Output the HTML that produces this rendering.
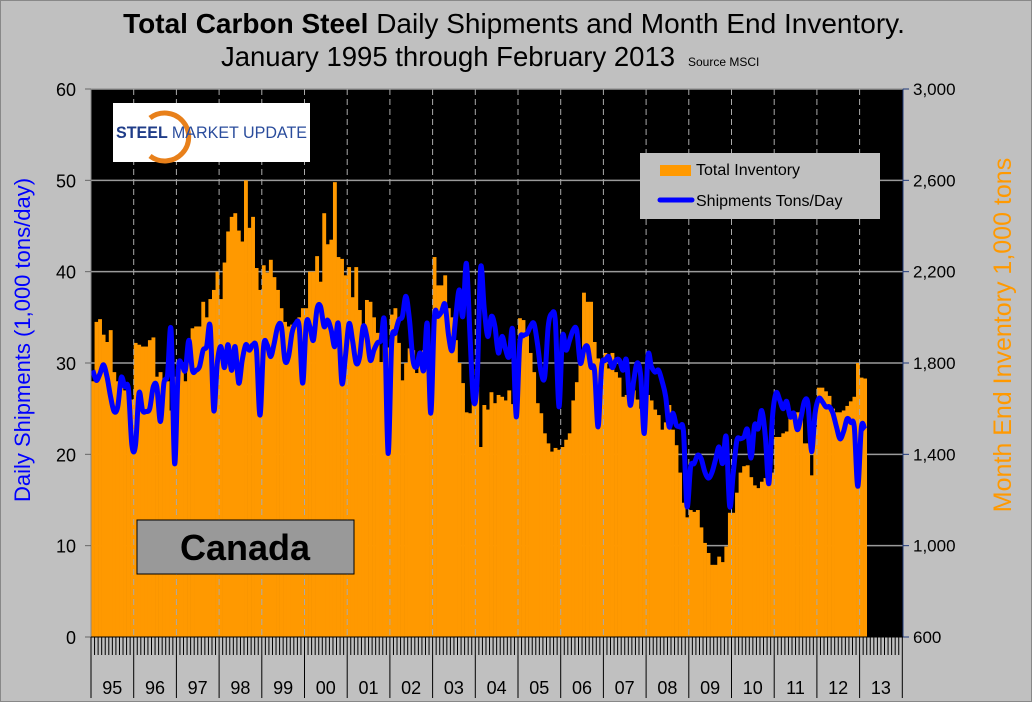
<!DOCTYPE html>
<html><head><meta charset="utf-8"><style>
body{margin:0;background:#c0c0c0;}
svg{display:block;font-family:"Liberation Sans",sans-serif;}
</style></head><body>
<svg id="chart" width="1032" height="702" viewBox="0 0 1032 702">
<rect x="0" y="0" width="1032" height="702" fill="#c0c0c0"/>
<rect x="0.5" y="0.5" width="1031" height="701" fill="none" stroke="#888"/>
<text x="514" y="33" text-anchor="middle" font-size="28" fill="#000"><tspan font-weight="bold">Total Carbon Steel</tspan> Daily Shipments and Month End Inventory.</text>
<text x="448" y="66" text-anchor="middle" font-size="27.5" fill="#000">January 1995 through February 2013</text>
<text x="688" y="66" font-size="12" fill="#000">Source MSCI</text>
<rect x="91" y="89" width="812" height="548" fill="#000"/>
<g id="grid"></g>
<g id="bars"></g>
<g id="vlines"></g>
<g id="line"></g>
<g id="axes"></g>
<text transform="translate(30,340) rotate(-90)" text-anchor="middle" font-size="22" fill="#0000ff">Daily Shipments (1,000 tons/day)</text>
<text transform="translate(1011,335) rotate(-90)" text-anchor="middle" font-size="25" fill="#ff9900">Month End Inventory 1,000 tons</text>
<g>
<rect x="113" y="103" width="197" height="59" fill="#fff"/>
<path d="M150,118 A24,24 0 1 1 150,156" fill="none" stroke="#e8801a" stroke-width="5"/>
<text x="116" y="138" font-size="17" font-weight="bold" fill="#1f3c88" textLength="191" lengthAdjust="spacingAndGlyphs">STEEL <tspan font-weight="normal" fill="#2a4c9c">MARKET UPDATE</tspan></text>
</g>
<g>
<rect x="640" y="153" width="240" height="66" fill="#c0c0c0"/>
<rect x="660" y="165" width="31" height="11" fill="#ff9900"/>
<text x="696" y="175" font-size="16">Total Inventory</text>
<line x1="660" y1="200" x2="692" y2="200" stroke="#0000ff" stroke-width="5" stroke-linecap="round"/>
<text x="696" y="206" font-size="16">Shipments Tons/Day</text>
</g>
<g>
<rect x="137" y="520" width="217" height="54" fill="#999" stroke="#000" stroke-width="1"/>
<text x="245" y="560" text-anchor="middle" font-size="36" font-weight="bold" fill="#000">Canada</text>
</g>
</svg>
<script>
// inventory in 1,000 tons, monthly Jan 1995 - Feb 2013 (left-scale units, converted below)
const inv95_98 = [28,34.5,34.8,33.1,32.3,33.6,29,28,28,27,26,26, 32.2,32,31.8,31.8,32.5,32.8,28.5,29,27.5,28,24.8,28.5, 30,30,28,32.2,33.8,34,34,36.7,35,37,38,40, 37,41,44.4,46,46.4,44.5,43.3,50,44.8,46,40.4,38];
const inv99_02 = [40.7,39.9,41.3,39.4,38,36,34.5,34,34.2,34.5,35,36, 36,40,40,41.7,38.9,46.4,43,43.5,49.8,41.6,41.4,39.6, 40.5,37.2,40.5,35.8,34,36.9,36.7,35,33.3,30.1,32,31.7, 35.3,36,32.2,28.1,30,31.6,31.4,28.9,30.1,31.4,31.4,27.6];
const inv03_06 = [41.6,38.5,38.5,39.6,36,35,32.5,30,27.8,24.6,24.5,27.4, 27.4,20.8,25.4,24.9,26.8,25.6,26.5,26.3,25.9,27,25.5,26.5, 34.9,34.7,33,31.1,29,25.6,24.5,22.3,21.2,20.3,20.7,20.5, 20.8,21.6,22.3,25.9,27.9,31,37.7,36.7,36.7,32.3,30.5,30];
const inv07_10 = [31.1,29.4,31.1,29,28.4,26.3,26.5,25.2,27,26,25,25.5, 26.5,25.9,24.9,24.3,22.7,23.5,25.4,22.7,21,18,14.7,13.1, 13.9,13.7,13.9,12,10.3,9.2,7.9,7.9,8.8,8.2,9.9,13.6, 13.6,15.8,18,18.7,18.8,17.5,16.6,16.3,17,17.4,16.6,18];
const inv11_13 = [21.9,21.9,22.3,22.5,24.6,24.6,24.6,24.6,21.2,21.2,17.7,23, 27.3,27.3,26.9,26.4,25,24.6,24.6,24.8,25.3,25.8,26.3,30, 28.4,28.3];
// shipments 1,000 tons/day
const ship95_98 = [29.2,28.1,28.8,29.8,28.5,26.3,24.7,25.2,28.4,27.4,27.2,21, 21,26.7,24.8,24.7,25,27.4,27.4,23.6,27.8,28.7,33.6,19, 29.2,29.9,29.2,32.5,29.2,29.2,29.6,31.4,31.8,34,24.8,30, 31.8,29.5,32,29.2,31.8,27.8,30.3,32,31.4,32,31.4,24.3];
const ship99_02 = [31.8,32,30.7,32.2,34,34,30.3,30.7,33.3,34.3,34,27.8, 34.3,34,32.5,35.9,36.2,34,34.7,33.6,31.8,34.3,27.8,30.7, 34.3,32.5,30,30.7,34,32.9,30.3,31.4,32.2,32.5,34.3,20.1, 32.2,33.3,34.7,35.1,37.3,34.7,30.3,29.6,31.1,29.2,34.3,24.5];
const ship03_06 = [35,35.1,35.6,36.4,33,31.4,35,38,35.1,40.9,33,25.9, 28,40.4,36,32.9,35.1,34,31.1,32.9,31.5,30.7,33.6,24.1, 32.2,33,33.2,34,34.3,32,29,28.5,34,35.4,34.5,25.2, 32.9,31.4,32.5,33.6,33.6,30,31.4,31.8,29.6,29.2,23,29.6];
const ship07_10 = [30.3,30.7,29.5,30.3,30.3,29.2,30.3,25.4,28,30,28.5,22.3, 30.7,29.6,29,29.2,28,26.3,23,24.5,23.2,23,22.5,14.3, 18.6,19,19.9,19.5,18.1,17.4,18,19.4,20.8,19,21.9,14.3, 18,21.5,21.7,21.9,22.7,19.6,23.2,22.8,24.8,22,16.8,24];
const ship11_13 = [26.7,26,25,25.8,24.1,24.5,22.7,24,25.8,25.5,20.3,24.5, 26.1,25.8,25.2,25.2,24.5,23,21.7,22.5,23.9,23.5,23,16.5, 23,22.7];
const leftTicks = [0,10,20,30,40,50,60];
const rightTicks = ["600","1,000","1,400","1,800","2,200","2,600","3,000"];
const yearLabels = ["95","96","97","98","99","00","01","02","03","04","05","06","07","08","09","10","11","12","13"];

const inventory = inv95_98.concat(inv99_02, inv03_06, inv07_10, inv11_13).map(v => 600 + 40 * v);
const shipments = ship95_98.concat(ship99_02, ship03_06, ship07_10, ship11_13);

const NS = "http://www.w3.org/2000/svg";
const X0 = 91, X1 = 903, Y0 = 637, Y1 = 89, MW = 42.7 / 12;
const xm = i => X0 + i * MW;
const yL = v => Y0 - (v / 60) * (Y0 - Y1);
const yR = v => Y0 - ((v - 600) / 2400) * (Y0 - Y1);
function mk(tag, attrs, parent) { const e = document.createElementNS(NS, tag); for (const k in attrs) e.setAttribute(k, attrs[k]); parent.appendChild(e); return e; }

const grid = document.getElementById("grid");
leftTicks.forEach((t, i) => {
  if (t === 0) return;
  const g = mk("line", {x1: X0, x2: X1, y1: yL(t), y2: yL(t), stroke: "#9a9a9a", "stroke-width": 1.5}, grid);
  
  
});

const bars = document.getElementById("bars");
inventory.forEach((v, i) => {
  const r = mk("rect", {x: xm(i), y: yR(v), width: MW + 0.3, height: Y0 - yR(v), fill: "#ff9900"}, bars);
  
  
});

const vl = document.getElementById("vlines");
for (let k = 1; k < yearLabels.length; k++) {
  const x = X0 + k * 42.7;
  const l = mk("line", {x1: x, x2: x, y1: Y1, y2: Y0, stroke: "#aaa", "stroke-width": 1, "stroke-dasharray": "6,4"}, vl);
  
  
}

const pts = shipments.map((v, i) => [xm(i) + MW / 2, yL(v)]);
let d = "M" + pts[0][0] + "," + pts[0][1];
for (let i = 0; i < pts.length - 1; i++) {
  const p0 = pts[Math.max(0, i - 1)], p1 = pts[i], p2 = pts[i + 1], p3 = pts[Math.min(pts.length - 1, i + 2)];
  const c1 = [p1[0] + (p2[0] - p0[0]) / 6, p1[1] + (p2[1] - p0[1]) / 6];
  const c2 = [p2[0] - (p3[0] - p1[0]) / 6, p2[1] - (p3[1] - p1[1]) / 6];
  d += " C" + c1[0].toFixed(1) + "," + c1[1].toFixed(1) + " " + c2[0].toFixed(1) + "," + c2[1].toFixed(1) + " " + p2[0].toFixed(1) + "," + p2[1].toFixed(1);
}
const path = mk("path", {d: d, fill: "none", stroke: "#0000ff", "stroke-width": 5, "stroke-linejoin": "round"}, document.getElementById("line"));



const ax = document.getElementById("axes");
mk("line", {x1: X0, x2: X0, y1: Y1, y2: Y0, stroke: "#888", "stroke-width": 1}, ax);
mk("line", {x1: X1, x2: X1, y1: Y1, y2: Y0, stroke: "#1f3a7a", "stroke-width": 1}, ax);
mk("line", {x1: X0, x2: X1, y1: Y0, y2: Y0, stroke: "#000", "stroke-width": 1}, ax);
leftTicks.forEach(t => {
  const y = yL(t);
  mk("line", {x1: X0 - 6, x2: X0, y1: y, y2: y, stroke: "#666"}, ax);
  const tx = mk("text", {x: 76, y: y + 7, "text-anchor": "end", "font-size": 18}, ax);
  tx.textContent = t;
  
  
});
rightTicks.forEach((t, i) => {
  const y = Y0 - i * (Y0 - Y1) / 6;
  mk("line", {x1: X1, x2: X1 + 6, y1: y, y2: y, stroke: "#1f3a7a"}, ax);
  const tx = mk("text", {x: 913, y: y + 6, "font-size": 17}, ax);
  tx.textContent = t;
  
  
});
for (let i = 0; i <= 228; i++) {
  const x = xm(i);
  if (x > X1) break;
  const isYear = i % 12 === 0;
  mk("line", {x1: x, x2: x, y1: Y0, y2: isYear ? 698 : 655, stroke: "#000", "stroke-width": 1}, ax);
}
yearLabels.forEach((y, k) => {
  const tx = mk("text", {x: X0 + k * 42.7 + 21.3, y: 694, "text-anchor": "middle", "font-size": 18}, ax);
  tx.textContent = y;
  
  
});
</script>
</body></html>
